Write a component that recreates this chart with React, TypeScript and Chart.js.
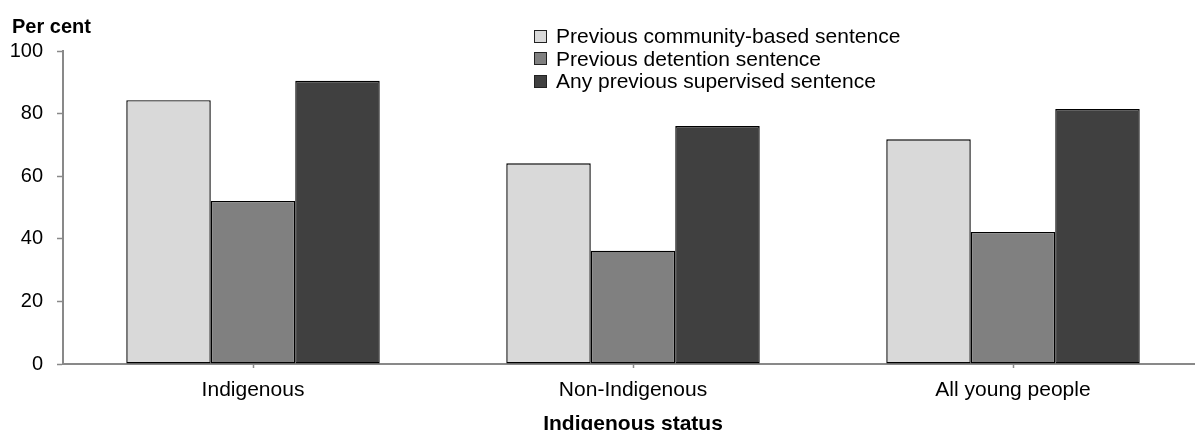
import React, { useEffect, useRef } from "react";
import { Chart, registerables } from "chart.js";

Chart.register(...registerables);

const categories = ["Indigenous", "Non-Indigenous", "All young people"];
const seriesNames = [
  "Previous community-based sentence",
  "Previous detention sentence",
  "Any previous supervised sentence",
];
const communityValues = [84.3, 64.1, 71.8];
const detentionValues = [52.1, 36.2, 42.2];
const anyValues = [90.5, 76.0, 81.5];
const seriesColors = ["#d9d9d9", "#808080", "#404040"];
const yTicks = [0, 20, 40, 60, 80, 100];

const FONT = "'Liberation Sans', Arial, sans-serif";
const AXIS_GRAY = "#898989";

export default function App() {
  const canvasRef = useRef<HTMLCanvasElement | null>(null);

  useEffect(() => {
    const canvas = canvasRef.current;
    if (!canvas) return;
    const values = [communityValues, detentionValues, anyValues];
    const chart = new Chart(canvas, {
      type: "bar",
      data: {
        labels: categories,
        datasets: seriesNames.map((name, i) => ({
          label: name,
          data: values[i],
          backgroundColor: seriesColors[i],
          borderColor: "#000000",
          borderWidth: 1.4,
          borderSkipped: false,
          categoryPercentage: 0.667,
          barPercentage: 1,
        })),
      },
      options: {
        animation: false,
        responsive: false,
        devicePixelRatio: 1,
        layout: { padding: { top: 51, left: 0, right: 0, bottom: 0 } },
        plugins: {
          legend: { display: false },
          tooltip: { enabled: false },
          title: { display: false },
        },
        scales: {
          x: {
            type: "category",
            offset: true,
            grid: {
              display: true,
              drawOnChartArea: false,
              drawTicks: true,
              tickLength: 4,
              tickWidth: 1.5,
              tickColor: AXIS_GRAY,
              offset: false,
            },
            border: { display: true, color: AXIS_GRAY, width: 2 },
            ticks: {
              color: "#000000",
              font: { family: FONT, size: 21 },
              padding: 10,
              maxRotation: 0,
              autoSkip: false,
            },
            afterFit: (scale: any) => {
              scale.height = 66;
            },
          },
          y: {
            type: "linear",
            min: 0,
            max: 100,
            afterBuildTicks: (scale: any) => {
              scale.ticks = yTicks.map((v) => ({ value: v }));
            },
            grid: {
              display: true,
              drawOnChartArea: false,
              drawTicks: true,
              tickLength: 6,
              tickWidth: 1.5,
              tickColor: AXIS_GRAY,
            },
            border: { display: true, color: AXIS_GRAY, width: 2 },
            ticks: {
              color: "#000000",
              font: { family: FONT, size: 20 },
              padding: 14,
            },
            afterFit: (scale: any) => {
              scale.width = 63;
            },
          },
        },
      },
    });
    return () => chart.destroy();
  }, []);

  return (
    <div
      style={{
        position: "absolute",
        left: 0,
        top: 0,
        width: 1195,
        height: 430,
        overflow: "hidden",
        background: "#ffffff",
        fontFamily: FONT,
        color: "#000000",
      }}
    >
      <div style={{ position: "relative", width: 1203, height: 430 }}>
        <canvas
          ref={canvasRef}
          width={1203}
          height={430}
          style={{ display: "block", width: 1203, height: 430 }}
        />
        <div
          style={{
            position: "absolute",
            left: 12,
            top: 16.4,
            fontSize: 20,
            lineHeight: "20px",
            fontWeight: "bold",
            whiteSpace: "nowrap",
          }}
        >
          Per cent
        </div>
        <div
          style={{
            position: "absolute",
            left: 534,
            top: 25,
            fontSize: 21,
            whiteSpace: "nowrap",
          }}
        >
          {seriesNames.map((name, i) => (
            <div
              key={name}
              style={{
                display: "flex",
                alignItems: "center",
                height: 22.5,
                lineHeight: "22.5px",
              }}
            >
              <span
                style={{
                  display: "inline-block",
                  boxSizing: "border-box",
                  width: 13,
                  height: 13,
                  background: seriesColors[i],
                  border: "1px solid #222222",
                  marginRight: 9,
                }}
              />
              <span>{name}</span>
            </div>
          ))}
        </div>
        <div
          style={{
            position: "absolute",
            left: 63,
            width: 1140,
            top: 411.5,
            fontSize: 21,
            lineHeight: "21px",
            fontWeight: "bold",
            textAlign: "center",
            whiteSpace: "nowrap",
          }}
        >
          Indigenous status
        </div>
      </div>
    </div>
  );
}
